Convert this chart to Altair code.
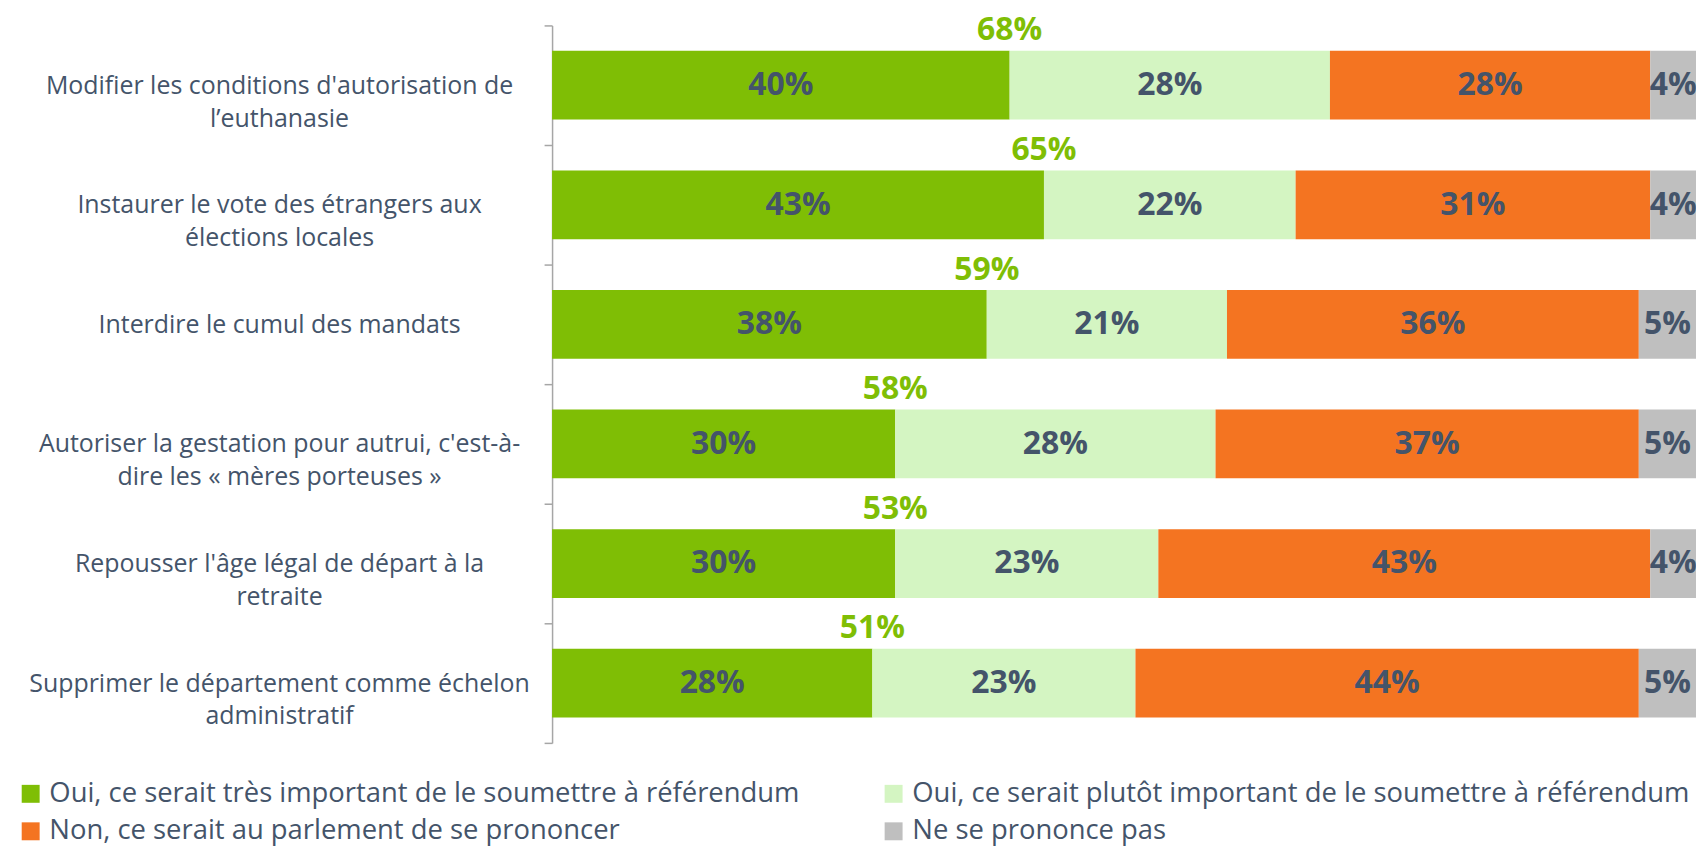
import altair as alt
import pandas as pd

questions = [
    "Modifier les conditions d'autorisation de|l’euthanasie",
    "Instaurer le vote des étrangers aux|élections locales",
    "Interdire le cumul des mandats",
    "Autoriser la gestation pour autrui, c'est-à-|dire les « mères porteuses »",
    "Repousser l'âge légal de départ à la|retraite",
    "Supprimer le département comme échelon|administratif",
]
series = [
    "Oui, ce serait très important de le soumettre à référendum",
    "Oui, ce serait plutôt important de le soumettre à référendum",
    "Non, ce serait au parlement de se prononcer",
    "Ne se prononce pas",
]
tres = [40, 43, 38, 30, 30, 28]
plutot = [28, 22, 21, 28, 23, 23]
non = [28, 31, 36, 37, 43, 44]
nsp = [4, 4, 5, 5, 4, 5]
colors = ["#7FBE05", "#D4F5C2", "#F47421", "#BFBFBF"]

TEXT = "#44546A"
FONT = "Open Sans"

rows = []
for i, q in enumerate(questions):
    for k, vals in enumerate([tres, plutot, non, nsp]):
        rows.append({"question": q, "series": series[k], "order": k,
                     "value": vals[i], "label": f"{vals[i]}%"})
df = pd.DataFrame(rows)

tot = pd.DataFrame({
    "question": questions,
    "first": tres,
    "label": [f"{a + b}%" for a, b in zip(tres, plutot)],
})

# legend fills column by column: list entries so rows read très/plutôt, non/nsp
legend_order = [series[0], series[2], series[1], series[3]]
legend_colors = [colors[0], colors[2], colors[1], colors[3]]

y_enc = alt.Y("question:N", sort=questions, title=None,
              scale=alt.Scale(paddingInner=0, paddingOuter=0),
              axis=alt.Axis(labelExpr="split(datum.label, '|')",
                            labelAlign="center", labelBaseline="middle",
                            labelPadding=266, labelLineHeight=33,
                            labelFontSize=25, labelColor=TEXT, labelFont=FONT,
                            tickSize=8, tickColor="#A6A6A6", tickWidth=1.5,
                            domainColor="#A6A6A6", domainWidth=1.5,
                            tickBand="extent", labelLimit=1000))

base = alt.Chart(df).transform_stack(
    stack="value", groupby=["question"], sort=[alt.SortField("order")],
    as_=["x0", "x1"])

bars = base.mark_bar(size=69).encode(
    y=y_enc,
    x=alt.X("x0:Q", axis=None, scale=alt.Scale(domain=[0, 100], nice=False)),
    x2="x1:Q",
    color=alt.Color("series:N",
                    scale=alt.Scale(domain=legend_order, range=legend_colors),
                    legend=alt.Legend(title=None, orient="none",
                                      legendX=-537, legendY=757,
                                      columns=2, columnPadding=80,
                                      rowPadding=9, symbolType="square",
                                      symbolSize=324, symbolStrokeWidth=0,
                                      labelFontSize=27.5, labelColor=TEXT,
                                      labelFont=FONT, labelLimit=1000,
                                      labelOffset=5)),
)

inner = base.transform_calculate(mid="(datum.x0 + datum.x1) / 2").mark_text(
    fontSize=32, fontWeight="bold", font=FONT, color=TEXT, baseline="middle"
).encode(y=alt.Y("question:N", sort=questions), x="mid:Q", text="label:N")

totals = alt.Chart(tot).mark_text(
    fontSize=32, fontWeight="bold", font=FONT, color="#7FBE05",
    baseline="middle", dy=-55
).encode(y=alt.Y("question:N", sort=questions), x="first:Q", text="label:N")

chart = alt.layer(bars, inner, totals).properties(
    width=1148, height=720,
    padding={"left": 546, "top": 16, "right": 0, "bottom": 102},
    autosize="none",
).configure_view(stroke=None)

chart.save("out.html", embed_options={"renderer": "svg", "actions": False})
